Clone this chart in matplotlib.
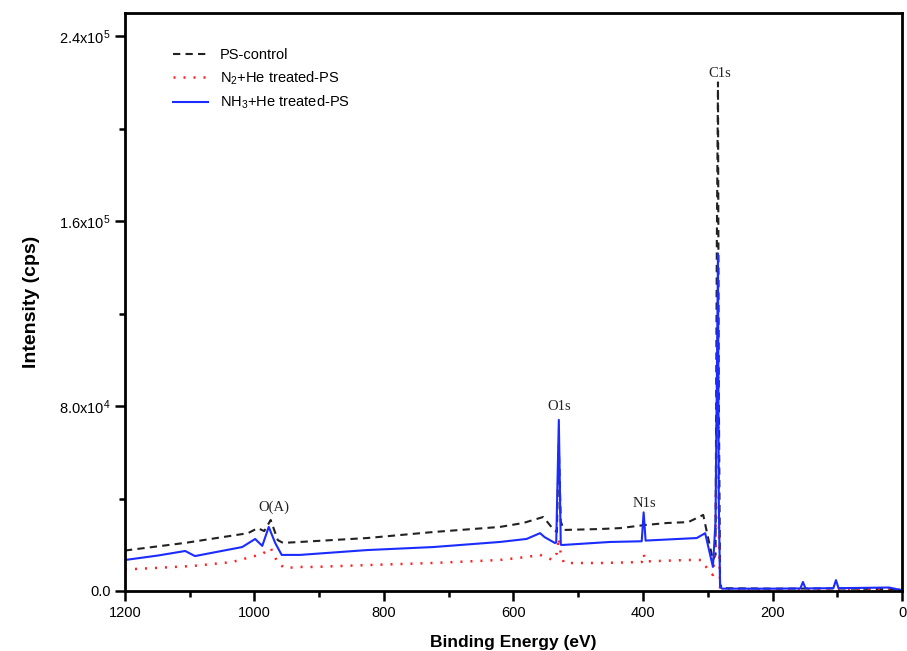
import matplotlib
matplotlib.use("Agg")
import matplotlib.pyplot as plt
from matplotlib.ticker import FixedLocator, MultipleLocator

# PS-control (black dashed)
ps_energy = [1200, 1107, 1010, 995, 985, 975, 964, 956, 930, 826, 724, 621, 585, 554,
             540, 533, 530, 527, 522, 466, 435, 398, 363, 330, 307, 301, 292, 288,
             286, 284.2, 283, 281, 278, 200, 100, 0]
ps_counts = [17500, 20800, 25000, 27200, 25900, 30700, 22000, 20800, 21200, 22900, 25500,
             27700, 29400, 32000, 27200, 25500, 63000, 30000, 26400, 26800, 27200, 28500,
             29400, 29800, 32900, 25000, 13400, 15600, 150000, 220000, 90000, 3000,
             1200, 1000, 1100, 700]

# N2+He treated-PS (red dotted)
n2_energy = [1200, 1185, 1096, 1035, 988, 975, 964, 953, 930, 907, 826, 724, 621, 580,
             559, 539, 533, 530, 527, 522, 466, 420, 402, 399, 396, 330, 310, 297, 292,
             288, 286, 284.2, 283, 281, 278, 0]
n2_counts = [9400, 9500, 10800, 12500, 16000, 18600, 12100, 9900, 10400, 10400, 11200,
             12100, 13400, 14700, 15600, 13400, 16400, 23000, 16000, 12100, 12100, 12400,
             12500, 16000, 12800, 13400, 13400, 8200, 6900, 20000, 80000, 110000, 30000,
             1000, 700, 600]

# NH3+He treated-PS (blue solid)
nh3_energy = [1200, 1150, 1107, 1092, 1019, 999, 988, 978, 968, 958, 930, 826, 724, 621,
              580, 559, 552, 536, 534, 530, 527, 524, 451, 402, 399, 396, 317, 304, 292,
              288, 286, 284.2, 283, 281, 278, 200, 157, 153, 149, 106, 102, 98, 20, 0]
nh3_counts = [13400, 15300, 17300, 15100, 19000, 22500, 19500, 27700, 20750, 15600,
              15600, 17700, 19000, 21200, 22500, 25000, 23300, 20750, 21000, 74000,
              20000, 19900, 21200, 21500, 34000, 21800, 22900, 25000, 10400, 30000,
              90000, 146000, 40000, 2000, 1000, 1000, 1100, 3900, 1100, 1200, 4700,
              1200, 1500, 300]

peak_names = ["O(A)", "O1s", "N1s", "C1s"]
peak_energy = [970, 530, 398, 281]
peak_height = [36300, 79600, 38000, 224000]

y_ticks = [0, 80000, 160000, 240000]
y_tick_labels = ["0.0", "8.0x10$^4$", "1.6x10$^5$", "2.4x10$^5$"]
x_ticks = [1200, 1000, 800, 600, 400, 200, 0]

plt.rcParams["font.family"] = ["Liberation Sans", "DejaVu Sans"]
plt.rcParams["mathtext.fontset"] = "custom"
plt.rcParams["mathtext.rm"] = "Liberation Sans"
plt.rcParams["mathtext.it"] = "Liberation Sans:italic"

fig = plt.figure(figsize=(9.07, 6.51), dpi=100)
ax = fig.add_axes([0.1378, 0.0922, 0.8567, 0.8878])

ax.plot(ps_energy, ps_counts, color="#222222", lw=1.5, ls=(0, (3.5, 2.5)),
        label="PS-control")
ax.plot(n2_energy, n2_counts, color="#ff2020", lw=1.8, ls=(0, (0.8, 3.2)),
        label="N$_2$+He treated-PS")
ax.plot(nh3_energy, nh3_counts, color="#1a2cff", lw=1.5, label="NH$_3$+He treated-PS")

for name, e, h in zip(peak_names, peak_energy, peak_height):
    ax.text(e, h, name, ha="center", va="center", fontsize=10.5,
            family="Liberation Serif", color="#222222")

ax.set_xlim(1200, 0)
ax.set_ylim(0, 250000)
ax.xaxis.set_major_locator(FixedLocator(x_ticks))
ax.xaxis.set_minor_locator(MultipleLocator(100))
ax.yaxis.set_major_locator(FixedLocator(y_ticks))
ax.set_yticklabels(y_tick_labels)
ax.yaxis.set_minor_locator(MultipleLocator(40000))

for s in ax.spines.values():
    s.set_linewidth(2)
ax.tick_params(which="major", direction="out", length=7, width=1.8, labelsize=10.5)
ax.tick_params(which="minor", direction="out", length=4.5, width=1.8)

ax.set_xlabel("Binding Energy (eV)", fontsize=12.5, fontweight="bold", labelpad=11)
ax.set_ylabel("Intensity (cps)", fontsize=14, fontweight="bold", labelpad=14)

ax.legend(loc="upper left", bbox_to_anchor=(0.045, 0.962), frameon=False,
          fontsize=10.5, handlelength=2.4, handletextpad=0.8, labelspacing=0.5)

fig.savefig("out.png", dpi=100)
